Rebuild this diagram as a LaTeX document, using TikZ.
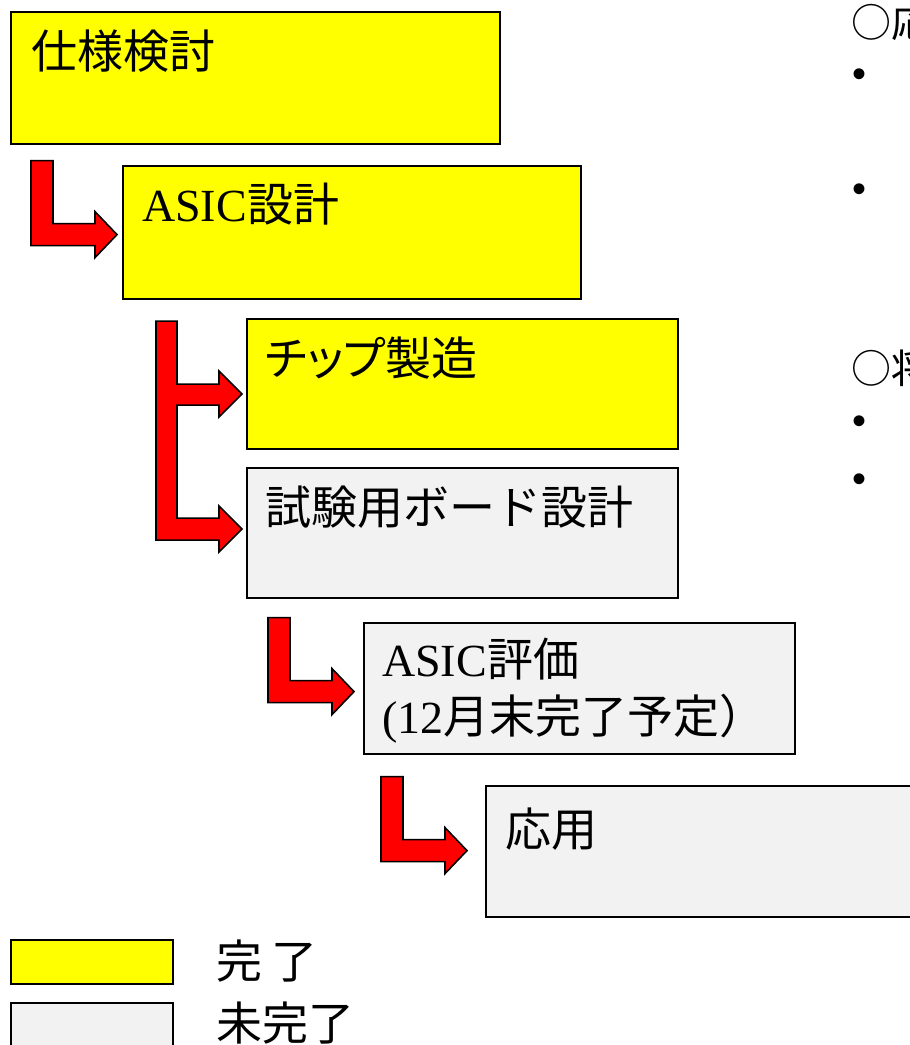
\documentclass[tikz,border=0pt]{standalone}
\usepackage{fontspec}
\setmainfont{Liberation Serif}
\newfontfamily\jpfont{Noto Sans CJK JP}
\newfontfamily\jppalt[RawFeature=+palt]{Noto Sans CJK JP}
\newfontfamily\bulfont{Liberation Sans}
\usepackage{tikz}
\usetikzlibrary{calc}

\definecolor{doneyellow}{HTML}{FFFF00}
\definecolor{opengray}{HTML}{F2F2F2}
\definecolor{arrowred}{HTML}{FF0000}

\tikzset{
	stage/.style={draw=black, line width=2.2pt, rectangle, anchor=north west,
		inner sep=0pt, minimum width=431pt, minimum height=132pt},
	done/.style={stage, fill=doneyellow},
	open/.style={stage, fill=opengray},
	stagetext/.style={anchor=base west, inner sep=0pt, align=left,
		font=\fontsize{46}{57}\selectfont\jpfont},
	notetext/.style={anchor=base west, inner sep=0pt,
		font=\fontsize{40}{48}\selectfont\jpfont},
	elbowline/.style={draw=black, line width=1.6pt, fill=arrowred, line join=miter},
	pics/elbow/.style={code={
		\path[elbowline] (-86,-74) -- (-64,-74) -- (-64,-11) -- (-22,-11) -- (-22,-23)
			-- (0,0) -- (-22,23) -- (-22,11) -- (-86,11) -- cycle;
	}},
	pics/fork/.style={code={
		\path[elbowline] (-86,-208) -- (-65,-208) -- (-65,-145) -- (-23,-145) -- (-23,-158)
			-- (0,-135) -- (-23,-112) -- (-23,-124) -- (-65,-124) -- (-65,-11)
			-- (-23,-11) -- (-23,-23) -- (0,0) -- (-23,23) -- (-23,11) -- (-86,11) -- cycle;
	}}
}

\begin{document}
\begin{tikzpicture}[x=1pt, y=-1pt]
	\useasboundingbox (0,0) rectangle (910,1045);
	\clip (0,0) rectangle (910,1045);

	% stages
	\node[done, minimum width=489pt, minimum height=132pt] (spec) at (10,11) {};
	\node[done, minimum width=458pt, minimum height=133pt] (asic) at (122,165) {};
	\node[done, minimum height=130pt] (chip) at (246,318) {};
	\node[open, minimum height=130pt] (board) at (246,467) {};
	\node[open, minimum height=131pt] (eval) at (363,622) {};
	\node[open, minimum height=131pt] (app) at (485,785) {};

	\node[stagetext] (spec-t) at ($(spec.north west)+(21,57)$) {仕様検討};
	\node[stagetext] (asic-t) at ($(asic.north west)+(20,56)$) {{\rmfamily ASIC}設計};
	\node[stagetext] (chip-t) at ($(chip.north west)+(19,57)$) {\jppalt チップ製造};
	\node[stagetext] (board-t) at ($(board.north west)+(19,57)$) {試験用ボード設計};
	\node[stagetext, anchor=north west] (eval-t) at ($(eval.north west)+(19,16)$)
		{{\rmfamily ASIC}評価\\{\rmfamily(12}月末完了予定）};
	\node[stagetext] (app-t) at ($(app.north west)+(20,61)$) {応用};

	% arrows
	\pic at ($(asic.west)+(-5,2)$) {elbow};
	\pic at ($(board.west)+(-4,-4)$) {fork};
	\pic at ($(eval.west)+(-9,3)$) {elbow};
	\pic at ($(app.west)+(-18,-1)$) {elbow};

	% notes on the right
	\node[notetext] (note1) at (851,37) {○応};
	\node[notetext] (note2) at (851,383) {○将};
	\foreach \y/\name in {87/b1, 202/b2, 434/b3, 492/b4}
		\node[notetext, font=\fontsize{40}{48}\selectfont\bulfont] (\name) at (852,\y) {•};

	% legend
	\node[done, minimum width=162pt, minimum height=44pt] (key-done) at (10,939) {};
	\node[open, minimum width=162pt, minimum height=44pt] (key-open) at (10,1002) {};
	\node[stagetext] (key-done-t) at (216,978) {完\hspace{9pt}了};
	\node[stagetext] (key-open-t) at (216,1040) {未完了};
\end{tikzpicture}
\end{document}
